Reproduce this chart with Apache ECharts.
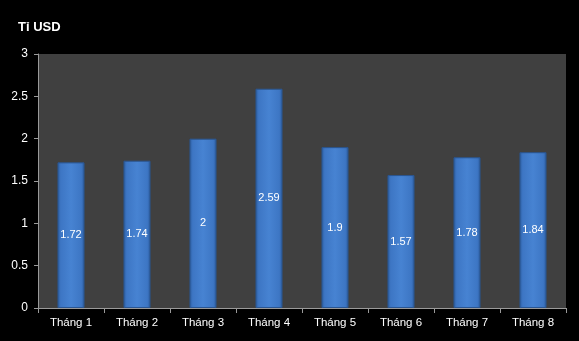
<!DOCTYPE html>
<html><head><meta charset="utf-8">
<script src="https://cdn.jsdelivr.net/npm/echarts@6/dist/echarts.min.js"></script>
<style>html,body{margin:0;padding:0;background:#000;}#c{width:579px;height:341px;}</style>
</head><body><div id="c"></div>
<script>
var categories = ['Tháng 1','Tháng 2','Tháng 3','Tháng 4','Tháng 5','Tháng 6','Tháng 7','Tháng 8'];
var values = [1.72, 1.74, 2, 2.59, 1.9, 1.57, 1.78, 1.84];
var yTicks = [0, 0.5, 1, 1.5, 2, 2.5, 3];

var chart = echarts.init(document.getElementById('c'));
var font = 'Liberation Sans';
chart.setOption({
  backgroundColor: '#000',
  animation: false,
  title: {text: 'Tỉ USD', left: 13, top: 16, textStyle: {color: '#fff', fontSize: 13, fontWeight: 'bold', fontFamily: font}},
  grid: {left: 38, right: 13, top: 54, bottom: 33, show: true, backgroundColor: '#404040', borderWidth: 0},
  xAxis: {
    type: 'category', data: categories,
    axisLine: {lineStyle: {color: '#9a9a9a', width: 1}},
    axisTick: {show: true, length: 5, lineStyle: {color: '#9a9a9a'}},
    axisLabel: {color: '#fff', fontSize: 11.5, fontFamily: font, margin: 9}
  },
  yAxis: {
    type: 'value', min: yTicks[0], max: yTicks[yTicks.length-1], interval: 0.5,
    axisLine: {show: true, lineStyle: {color: '#9a9a9a'}},
    axisTick: {show: true, length: 4, lineStyle: {color: '#9a9a9a'}},
    splitLine: {show: false},
    axisLabel: {color: '#fff', fontSize: 12, fontFamily: font, margin: 10}
  },
  series: [{
    type: 'bar', data: values, barWidth: '41%',
    itemStyle: {
      color: new echarts.graphic.LinearGradient(0, 0, 1, 0, [
        {offset: 0, color: '#2c5c9e'},
        {offset: 0.12, color: '#3d76c4'},
        {offset: 0.5, color: '#4783d2'},
        {offset: 0.88, color: '#3d76c4'},
        {offset: 1, color: '#2c5c9e'}
      ]),
      borderColor: '#2a5590', borderWidth: 1
    },
    label: {show: true, position: 'inside', color: '#fff', fontSize: 11, fontFamily: font}
  }]
});
</script></body></html>
